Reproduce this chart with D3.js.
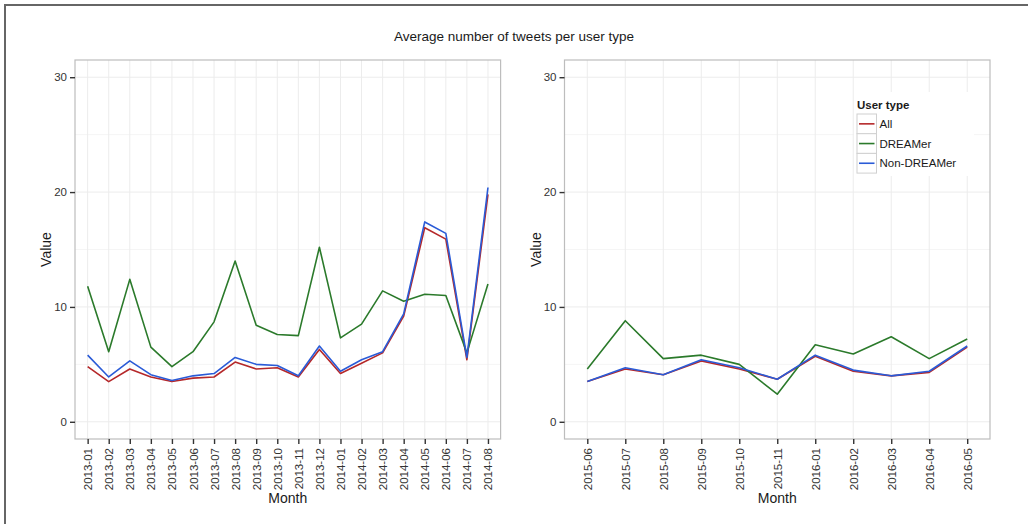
<!DOCTYPE html>
<html>
<head>
<meta charset="utf-8">
<script src="https://cdn.jsdelivr.net/npm/d3@7"></script>
<style>
  html, body { margin: 0; padding: 0; background: #fff; }
  svg { display: block; font-family: "Liberation Sans", Arial, Helvetica, sans-serif; }
</style>
</head>
<body>
<svg id="chart" width="1028" height="524"></svg>
<script>
// Monthly averages, first collection period
const months1 = ["2013-01","2013-02","2013-03","2013-04","2013-05","2013-06","2013-07","2013-08","2013-09","2013-10",
                 "2013-11","2013-12","2014-01","2014-02","2014-03","2014-04","2014-05","2014-06","2014-07","2014-08"];
const all1     = [4.8, 3.5, 4.6, 3.9, 3.5, 3.8, 3.9, 5.2, 4.6, 4.7, 3.9, 6.3, 4.2, 5.1, 6.0, 9.2, 16.9, 15.9, 5.4, 19.8];
const dreamer1 = [11.8, 6.1, 12.4, 6.5, 4.8, 6.1, 8.7, 14.0, 8.4, 7.6, 7.5, 15.2, 7.3, 8.5, 11.4, 10.5, 11.1, 11.0, 6.0, 12.0];
const non1     = [5.8, 3.9, 5.3, 4.1, 3.6, 4.0, 4.2, 5.6, 5.0, 4.9, 4.0, 6.6, 4.4, 5.4, 6.1, 9.4, 17.4, 16.4, 5.6, 20.4];

// Monthly averages, second collection period
const months2  = ["2015-06","2015-07","2015-08","2015-09","2015-10","2015-11","2016-01","2016-02","2016-03","2016-04","2016-05"];
const all2     = [3.5, 4.6, 4.1, 5.3, 4.6, 3.7, 5.7, 4.4, 4.0, 4.3, 6.5];
const dreamer2 = [4.6, 8.8, 5.5, 5.8, 5.0, 2.4, 6.7, 5.9, 7.4, 5.5, 7.2];
const non2     = [3.5, 4.7, 4.1, 5.4, 4.7, 3.7, 5.8, 4.5, 4.0, 4.4, 6.6];

const seriesNames = ["All", "DREAMer", "Non-DREAMer"];
const yTicks = [0, 10, 20, 30];
const yMinor = [5, 15, 25];

const colors = { "All": "#b5282a", "DREAMer": "#2b7a2b", "Non-DREAMer": "#2a5bd7" };

const svg = d3.select("#chart");

// outer frame (top and left edges)
svg.append("path")
  .attr("d", "M5,524 L5,5 L1028,5")
  .attr("fill", "none").attr("stroke", "#666").attr("stroke-width", 2);

svg.append("text")
  .attr("x", 514).attr("y", 41)
  .attr("text-anchor", "middle")
  .attr("font-size", 13.5).attr("fill", "#1a1a1a")
  .text("Average number of tweets per user type");

const plotTop = 60, plotBottom = 439;
const y = d3.scaleLinear().domain([-1.5, 31.5]).range([plotBottom, plotTop]);

function panel(left, right, months, data) {
  const g = svg.append("g");
  const x = d3.scalePoint().domain(months).range([left, right]).padding(0.6);

  // minor grid
  g.selectAll(".ymin").data(yMinor).join("line")
    .attr("x1", left).attr("x2", right)
    .attr("y1", d => y(d)).attr("y2", d => y(d))
    .attr("stroke", "#f5f5f5").attr("stroke-width", 1);
  // major grid
  g.selectAll(".ymaj").data(yTicks).join("line")
    .attr("x1", left).attr("x2", right)
    .attr("y1", d => y(d)).attr("y2", d => y(d))
    .attr("stroke", "#ececec").attr("stroke-width", 1);
  g.selectAll(".xmaj").data(months).join("line")
    .attr("x1", d => x(d)).attr("x2", d => x(d))
    .attr("y1", plotTop).attr("y2", plotBottom)
    .attr("stroke", "#ececec").attr("stroke-width", 1);

  // series
  const line = d3.line().x((d, i) => x(months[i])).y(d => y(d));
  seriesNames.forEach(name => {
    g.append("path")
      .datum(data[name])
      .attr("d", line)
      .attr("fill", "none")
      .attr("stroke", colors[name])
      .attr("stroke-width", 1.6)
      .attr("stroke-linejoin", "round");
  });

  // panel border
  g.append("rect")
    .attr("x", left).attr("y", plotTop)
    .attr("width", right - left).attr("height", plotBottom - plotTop)
    .attr("fill", "none").attr("stroke", "#bdbdbd").attr("stroke-width", 1.2);

  // y axis
  const ya = g.append("g").attr("transform", `translate(${left},0)`)
    .call(d3.axisLeft(y).tickValues(yTicks).tickSize(5).tickPadding(3));
  ya.select(".domain").remove();
  ya.selectAll(".tick line").attr("stroke", "#333").attr("stroke-width", 1.4);
  ya.selectAll(".tick text").attr("font-size", 11.5).attr("fill", "#333")
    .attr("font-family", "Liberation Sans, Arial, sans-serif");

  // x axis
  const xa = g.append("g").attr("transform", `translate(0,${plotBottom})`)
    .call(d3.axisBottom(x).tickSize(5).tickPadding(3));
  xa.select(".domain").remove();
  xa.selectAll(".tick line").attr("stroke", "#333").attr("stroke-width", 1.4);
  xa.selectAll(".tick text")
    .attr("font-size", 11.5).attr("fill", "#333")
    .attr("font-family", "Liberation Sans, Arial, sans-serif")
    .attr("text-anchor", "end")
    .attr("transform", "rotate(-90)")
    .attr("x", -9).attr("y", 0).attr("dy", "0.35em");

  // axis titles
  g.append("text")
    .attr("x", (left + right) / 2).attr("y", 503)
    .attr("text-anchor", "middle").attr("font-size", 14).attr("fill", "#1a1a1a")
    .text("Month");
  g.append("text")
    .attr("transform", `translate(${left - 24},${(plotTop + plotBottom) / 2}) rotate(-90)`)
    .attr("text-anchor", "middle").attr("font-size", 14).attr("fill", "#1a1a1a")
    .text("Value");
}

panel(75, 500.6, months1, { "All": all1, "DREAMer": dreamer1, "Non-DREAMer": non1 });
panel(564.5, 990, months2, { "All": all2, "DREAMer": dreamer2, "Non-DREAMer": non2 });

// legend
const lg = svg.append("g").attr("transform", "translate(857,0)");
lg.append("rect").attr("x", -3).attr("y", 92).attr("width", 120).attr("height", 84).attr("fill", "#fff");
lg.append("text").attr("x", 0).attr("y", 109)
  .attr("font-size", 11.5).attr("font-weight", "bold").attr("fill", "#1a1a1a")
  .text("User type");
seriesNames.forEach((name, i) => {
  const ky = 114 + i * 19.7;
  lg.append("rect").attr("x", 0).attr("y", ky).attr("width", 19.5).attr("height", 19.7)
    .attr("fill", "#fff").attr("stroke", "#d0d0d0").attr("stroke-width", 1);
  lg.append("line").attr("x1", 2).attr("x2", 17.5)
    .attr("y1", ky + 9.85).attr("y2", ky + 9.85)
    .attr("stroke", colors[name]).attr("stroke-width", 1.6);
  lg.append("text").attr("x", 22.5).attr("y", ky + 9.85).attr("dy", "0.35em")
    .attr("font-size", 11.5).attr("fill", "#1a1a1a").text(name);
});
</script>
</body>
</html>
